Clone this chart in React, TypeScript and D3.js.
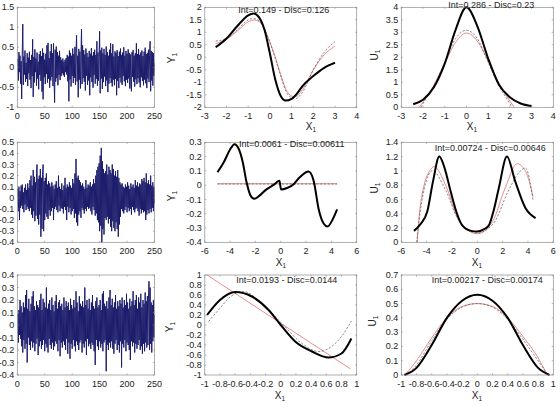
import * as d3 from 'd3';

type Pt = [number, number];

// simulated paths, one value per time step (t = 1..250)
const pathA = [
	0.21, -0.33, 0.38, -0.12, 0.29, -0.41, 0.15, -0.79, 0.33, 1.08,
	-0.44, 0.27, -0.18, 0.42, -0.36, 0.11, -0.29, 0.35, -0.47, 0.24,
	-0.15, 0.39, -0.31, 0.18, -0.52, 0.31, -0.22, 0.7, -0.74, 0.26,
	-0.38, 0.45, -0.12, 0.22, -0.46, 0.37, -0.28, 0.14, -0.55, 0.33,
	-0.19, 0.41, -0.34, 0.28, -0.61, 0.47, -0.8, 0.36, -0.25, 0.19,
	-0.42, 0.34, -0.17, 0.55, -0.38, 0.61, -0.29, 0.23, -0.51, 0.4,
	-0.33, 0.58, -0.24, 0.35, -0.47, 0.6, -0.31, -0.88, 0.44, -0.36,
	0.52, -0.27, 0.38, -0.45, 0.29, -0.19, 0.41, -0.32, 0.25, -0.22,
	0.18, -0.15, 0.22, -0.2, 0.14, -0.24, 0.19, -0.12, 0.23, -0.18,
	0.31, -0.35, 0.27, -0.85, 0.42, -0.3, 0.36, -0.48, 0.29, -0.22,
	0.47, -0.39, 0.33, -0.26, 0.51, -0.44, 0.38, 0.8, -0.35, 0.29,
	-0.75, 0.46, -0.31, 0.39, -0.53, 0.28, 0.95, -0.42, 0.55, -0.27,
	0.43, -0.36, 0.32, -0.58, 0.47, -0.21, 0.36, -0.44, 0.26, -0.33,
	0.41, -0.7, 0.34, -0.25, 0.48, -0.37, 0.29, -0.51, 0.38, -0.19,
	0.44, -0.41, 0.31, -0.29, 0.65, -0.46, 0.37, -0.33, 0.26, 0.9,
	-0.65, 0.42, -0.28, 0.49, -0.54, 0.35, -0.37, 0.46, -0.23, 0.31,
	-0.47, 0.52, -0.33, 0.38, -0.62, 0.29, -0.41, 0.44, -0.27, 0.6,
	-0.39, 0.35, -0.48, 0.58, -0.31, 0.27, -0.45, 0.4, -0.29, 0.36,
	-0.7, 0.43, -0.34, 0.28, -0.52, 0.39, -0.26, 0.47, -0.38, 0.31,
	-0.44, 0.37, -0.22, 0.5, -0.35, 0.29, -0.47, 0.41, -0.31, 0.34,
	-0.39, 0.45, -0.28, 0.36, -0.53, 0.32, -0.41, -0.6, 0.38, -0.24,
	0.43, -0.36, 0.29, -0.48, 0.35, -0.3, 0.6, -0.42, 0.33, -0.27,
	0.46, -0.38, 0.31, -0.5, 0.37, -0.25, 0.42, -0.34, 0.28, -0.45,
	0.39, -0.31, 0.49, -0.4, 0.33, -0.52, 0.36, -0.28, 0.44, -0.37,
	0.3, 0.65, -0.6, 0.41, -0.33, 0.38, -0.46, 0.35, -0.21, 0.1,
];

const pathB = [
	0.08, -0.12, 0.1, -0.2, 0.06, -0.09, 0.11, -0.07, 0.12, -0.1,
	0.05, -0.13, 0.09, -0.06, 0.12, -0.11, 0.07, -0.08, 0.13, -0.1,
	0.09, -0.12, 0.16, -0.09, 0.2, -0.15, 0.11, -0.18, 0.25, -0.12,
	0.19, -0.21, 0.14, -0.16, 0.22, 0.3, -0.19, 0.17, -0.24, 0.2,
	-0.15, 0.26, -0.35, 0.18, -0.28, 0.21, 0.3, -0.3, 0.15, -0.2,
	0.18, -0.14, 0.22, -0.17, 0.12, -0.19, 0.15, -0.11, 0.13, -0.16,
	0.1, -0.12, 0.14, -0.09, 0.11, -0.2, 0.08, -0.1, 0.12, -0.08,
	0.15, -0.11, 0.09, -0.13, 0.2, -0.07, 0.1, -0.12, 0.08, -0.09,
	0.13, -0.1, 0.07, -0.14, 0.11, -0.08, 0.18, -0.11, 0.09, -0.2,
	0.12, -0.08, 0.1, -0.13, 0.14, -0.09, 0.11, -0.15, 0.09, -0.12,
	0.17, -0.1, 0.13, -0.18, 0.22, -0.14, 0.35, -0.22, 0.18, -0.25,
	0.2, -0.15, 0.16, -0.12, 0.14, -0.18, 0.11, -0.09, 0.13, -0.11,
	0.1, -0.14, 0.08, -0.1, 0.16, -0.12, 0.09, -0.08, 0.12, -0.1,
	0.11, -0.09, 0.14, -0.12, 0.1, -0.15, 0.12, -0.08, 0.17, -0.11,
	0.13, -0.16, 0.2, -0.14, 0.25, -0.2, 0.28, -0.22, 0.31, -0.3,
	0.38, -0.25, 0.45, -0.4, 0.33, -0.28, 0.26, -0.33, 0.22, -0.18,
	0.24, -0.2, 0.3, -0.17, 0.21, -0.23, 0.28, -0.19, 0.25, -0.26,
	0.22, -0.3, 0.3, -0.21, 0.26, -0.27, 0.2, -0.3, 0.24, -0.22,
	0.19, -0.28, 0.25, -0.35, 0.18, -0.24, 0.14, -0.17, 0.12, -0.1,
	0.13, -0.12, 0.1, -0.14, 0.09, -0.11, 0.12, -0.08, 0.1, -0.13,
	0.14, -0.09, 0.11, -0.12, 0.08, -0.1, 0.13, -0.15, 0.1, -0.08,
	0.12, -0.11, 0.09, -0.13, 0.16, -0.1, 0.11, -0.09, 0.14, -0.12,
	0.1, -0.16, 0.13, -0.1, 0.12, -0.14, 0.17, -0.11, 0.15, -0.13,
	0.18, -0.12, 0.14, -0.2, 0.22, -0.15, 0.13, -0.11, 0.16, -0.14,
	0.12, -0.1, 0.2, -0.13, 0.11, -0.09, 0.14, -0.12, 0.1, -0.05,
];

const pathC = [
	0.09, -0.14, 0.12, -0.08, 0.2, -0.11, 0.15, -0.17, 0.1, -0.22,
	0.18, -0.12, 0.14, -0.19, 0.24, -0.15, 0.28, -0.3, 0.13, -0.1,
	0.21, -0.16, 0.11, -0.2, 0.17, -0.13, 0.23, -0.18, 0.27, -0.14,
	0.15, -0.21, 0.12, -0.15, 0.19, -0.11, 0.16, -0.24, 0.14, -0.17,
	0.2, -0.13, 0.25, -0.19, 0.12, -0.16, 0.21, -0.12, 0.18, -0.21,
	0.14, -0.15, 0.3, -0.18, 0.13, -0.22, 0.17, -0.11, 0.2, -0.16,
	0.12, -0.19, 0.22, -0.14, 0.16, -0.2, 0.11, -0.17, 0.19, -0.13,
	0.24, -0.15, 0.13, -0.21, 0.18, -0.12, 0.2, -0.25, 0.15, -0.14,
	0.17, -0.18, 0.12, -0.13, 0.22, -0.16, 0.14, -0.2, 0.19, -0.11,
	0.15, -0.23, 0.18, -0.14, 0.12, -0.27, 0.21, -0.15, 0.16, -0.19,
	0.13, -0.12, 0.2, -0.17, 0.14, -0.21, 0.27, -0.13, 0.18, -0.16,
	0.11, -0.2, 0.23, -0.14, 0.17, -0.12, 0.15, -0.22, 0.19, -0.15,
	0.14, -0.18, 0.3, -0.13, 0.16, -0.24, 0.2, -0.11, 0.13, -0.17,
	0.21, -0.15, 0.12, -0.19, 0.18, -0.14, 0.24, -0.16, 0.15, -0.21,
	0.13, -0.32, 0.19, -0.12, 0.22, -0.17, 0.14, -0.2, 0.16, -0.13,
	0.2, -0.18, 0.12, -0.15, 0.25, -0.21, 0.27, -0.14, 0.17, -0.12,
	0.15, -0.37, 0.19, -0.16, 0.13, -0.2, 0.22, -0.14, 0.28, -0.18,
	0.16, -0.13, 0.21, -0.19, 0.14, -0.23, 0.18, -0.15, 0.24, -0.12,
	0.13, -0.2, 0.19, -0.16, 0.15, -0.22, 0.2, -0.13, 0.17, -0.34,
	0.22, -0.15, 0.14, -0.18, 0.2, -0.12, 0.16, -0.21, 0.25, -0.14,
	0.18, -0.16, 0.13, -0.2, 0.21, -0.28, 0.15, -0.13, 0.19, -0.17,
	0.27, -0.14, 0.16, -0.22, 0.2, -0.15, 0.24, -0.19, 0.13, -0.16,
	0.22, -0.12, 0.18, -0.2, 0.25, -0.17, 0.14, -0.23, 0.2, -0.15,
	0.17, -0.21, 0.26, -0.14, 0.19, -0.18, 0.23, -0.16, 0.21, 0.35,
	-0.2, 0.3, -0.15, 0.18, -0.22, 0.16, -0.13, 0.2, -0.1, 0.08,
];

// drift Y_1 vs X_1: exact (black), fitted (red), estimated (dashed)
const driftAExact: Pt[] = [
	[-2.5, 0.4], [-2, 0.75], [-1.5, 1.25], [-1, 1.68], [-0.75, 1.75], [-0.5, 1.6],
	[-0.25, 1.1], [0, 0.15], [0.25, -0.9], [0.5, -1.55], [0.72, -1.73], [1, -1.66],
	[1.25, -1.45], [1.5, -1.15], [2, -0.75], [2.5, -0.42], [3, -0.22],
];
const driftAFit: Pt[] = [
	[-2.5, 0.55], [-2, 0.72], [-1.5, 1.05], [-1, 1.42], [-0.7, 1.49], [-0.4, 1.35],
	[0, 0.6], [0.25, 0.0], [0.5, -0.7], [0.75, -1.3], [1, -1.55], [1.15, -1.58],
	[1.5, -1.3], [2, -0.5], [2.5, 0.1], [3, 0.45],
];
const driftAEst: Pt[] = [
	[-2.5, 0.65], [-2, 0.75], [-1.5, 1.1], [-1, 1.5], [-0.75, 1.55], [-0.4, 1.38],
	[0, 0.6], [0.25, -0.05], [0.5, -0.75], [0.75, -1.38], [1, -1.62], [1.15, -1.66],
	[1.5, -1.4], [2, -0.5], [2.5, 0.2], [3, 0.63],
];

const driftBExact: Pt[] = [
	[-5, 0.09], [-4.5, 0.16], [-4, 0.25], [-3.65, 0.287], [-3.3, 0.25], [-3, 0.16],
	[-2.7, 0.02], [-2.4, -0.07], [-2.1, -0.095], [-1.7, -0.075], [-1.2, -0.035],
	[-0.6, 0.0], [-0.1, 0.03], [0.02, -0.03], [0.5, -0.02], [1, 0.005], [1.5, 0.055],
	[2.2, 0.095], [2.6, 0.03], [3, -0.17], [3.4, -0.27], [3.7, -0.29], [4.1, -0.24],
	[4.45, -0.17],
];
const driftBFit: Pt[] = [[-5, 0.01], [4.45, 0.01]];
const driftBEst: Pt[] = [[-5, 0.008], [4.45, 0.008]];

const driftCExact: Pt[] = [
	[-0.97, 0.2], [-0.8, 0.5], [-0.6, 0.66], [-0.38, 0.57], [-0.16, 0.3], [0, 0.0],
	[0.19, -0.33], [0.41, -0.53], [0.63, -0.65], [0.8, -0.57], [0.93, -0.27],
];
const driftCFit: Pt[] = [[-0.97, 1.0], [0.92, -0.88]];
const driftCEst: Pt[] = [
	[-0.95, 0.07], [-0.82, 0.3], [-0.65, 0.58], [-0.49, 0.67], [-0.25, 0.43],
	[0.015, 0.03], [0.28, -0.37], [0.5, -0.53], [0.67, -0.43], [0.8, -0.23], [0.93, 0.08],
];

// diffusion U_1 vs X_1
const diffAExact: Pt[] = [
	[-2.45, 0.12], [-2, 0.3], [-1.5, 0.8], [-1, 1.75], [-0.5, 3.1], [0, 4.0],
	[0.5, 3.25], [1, 1.95], [1.5, 0.9], [2, 0.4], [2.5, 0.15], [3, 0.05],
];
const diffAFit: Pt[] = [
	[-2.2, -0.02], [-2, 0.2], [-1.5, 0.9], [-1, 1.75], [-0.5, 2.6], [0, 2.97],
	[0.5, 2.65], [1, 1.85], [1.5, 0.95], [2, 0.25], [2.2, 0.0],
];
const diffAEst: Pt[] = [
	[-2.1, 0.0], [-2, 0.15], [-1.5, 0.85], [-1, 1.8], [-0.5, 2.75], [0, 3.08],
	[0.5, 2.75], [1, 1.8], [1.5, 0.85], [2, 0.15], [2.1, 0.0],
];

const diffBExact: Pt[] = [
	[-5, 0.16], [-4.5, 0.25], [-3.95, 0.43], [-3.5, 0.85], [-3, 1.2], [-2.6, 1.05],
	[-2.1, 0.71], [-1.6, 0.4], [-1.2, 0.24], [-0.5, 0.16], [0, 0.15], [0.5, 0.18],
	[0.92, 0.24], [1.3, 0.45], [1.7, 0.76], [2.34, 1.2], [3, 0.85], [3.8, 0.48],
	[4.6, 0.34],
];
const diffBFit: Pt[] = [
	[-4.75, 0.0], [-4.6, 0.34], [-4.2, 0.8], [-3.8, 0.99], [-3.4, 1.06], [-2.5, 0.8],
	[-1.45, 0.31], [0, 0.12], [1.2, 0.29], [2.2, 0.76], [3.15, 1.1], [3.8, 1.0],
	[4.4, 0.64],
];
const diffBEst: Pt[] = [
	[-4.78, 0.0], [-4.6, 0.3], [-4.2, 0.74], [-3.55, 1.0], [-2.5, 0.73], [-1.45, 0.3],
	[0, 0.13], [1.3, 0.27], [2.4, 0.7], [3.3, 0.98], [3.8, 1.04], [4.4, 0.59],
];

const diffCExact: Pt[] = [
	[-0.96, 0.0], [-0.8, 0.05], [-0.6, 0.21], [-0.4, 0.4], [-0.2, 0.52], [0, 0.562],
	[0.2, 0.52], [0.4, 0.4], [0.6, 0.21], [0.8, 0.05], [0.95, 0.0],
];
const diffCFit: Pt[] = [
	[-0.95, 0.0], [-0.8, 0.1], [-0.6, 0.26], [-0.4, 0.4], [-0.2, 0.48], [0, 0.5],
	[0.2, 0.48], [0.4, 0.4], [0.6, 0.27], [0.8, 0.12], [0.92, 0.0],
];
const diffCEst: Pt[] = [
	[-0.93, 0.0], [-0.8, 0.07], [-0.6, 0.24], [-0.4, 0.39], [-0.2, 0.475], [0, 0.5],
	[0.2, 0.475], [0.4, 0.39], [0.6, 0.25], [0.8, 0.1], [0.93, 0.0],
];

const titles = [
	'Int=0.149 - Disc=0.126',
	'Int=0.286 - Disc=0.23',
	'Int=0.0061 - Disc=0.00611',
	'Int=0.00724 - Disc=0.00646',
	'Int=0.0193 - Disc=0.0144',
	'Int=0.00217 - Disc=0.00174',
];

const timeTicks = [0, 50, 100, 150, 200, 250];

// grid of axes boxes, pixel edges
const colX: [number, number][] = [
	[17.3, 154.5],
	[204.8, 356.7],
	[401.3, 553.3],
];
const rowY: [number, number][] = [
	[7.3, 107.3],
	[142.3, 242.3],
	[275, 375],
];

const font = '"Liberation Sans", Arial, Helvetica, sans-serif';
const axisColor = '#8a8a8a';
const textColor = '#222';

const fmt = (d: number) => {
	const v = Math.round(d * 1000) / 1000;
	return String(v === 0 ? 0 : v);
};
const ticksOf = (a: number, b: number, step: number) =>
	d3.range(Math.round((b - a) / step) + 1).map((i) => a + i * step);

type Curve = { data: Pt[]; kind: 'exact' | 'fit' | 'est' };
type PanelSpec = {
	row: number;
	col: number;
	xDomain: [number, number];
	yDomain: [number, number];
	xTicks: number[];
	yTicks: number[];
	series?: number[];
	curves?: Curve[];
	title?: string;
	titleDx?: number;
	titleY?: number;
	yLabel?: string;
	yLabelPos?: [number, number];
	xLabelPos?: [number, number];
};

const panels: PanelSpec[] = [
	{ row: 0, col: 0, xDomain: [0, 250], yDomain: [-1, 1.5], xTicks: timeTicks, yTicks: ticksOf(-1, 1.5, 0.5), series: pathA },
	{ row: 1, col: 0, xDomain: [0, 250], yDomain: [-0.4, 0.5], xTicks: timeTicks, yTicks: ticksOf(-0.4, 0.5, 0.1), series: pathB },
	{ row: 2, col: 0, xDomain: [0, 250], yDomain: [-0.4, 0.4], xTicks: timeTicks, yTicks: ticksOf(-0.4, 0.4, 0.1), series: pathC },
	{
		row: 0, col: 1, xDomain: [-3, 4], yDomain: [-2, 2], xTicks: ticksOf(-3, 4, 1), yTicks: ticksOf(-2, 2, 0.5),
		curves: [{ data: driftAFit, kind: 'fit' }, { data: driftAEst, kind: 'est' }, { data: driftAExact, kind: 'exact' }],
		title: titles[0], titleDx: 3, titleY: 12.6, yLabel: 'Y', yLabelPos: [175, 58], xLabelPos: [311, 130],
	},
	{
		row: 0, col: 2, xDomain: [-3, 4], yDomain: [0, 4], xTicks: ticksOf(-3, 4, 1), yTicks: ticksOf(0, 4, 0.5),
		curves: [{ data: diffAFit, kind: 'fit' }, { data: diffAEst, kind: 'est' }, { data: diffAExact, kind: 'exact' }],
		title: titles[1], titleDx: 14, titleY: 7.5, yLabel: 'U', yLabelPos: [378, 55], xLabelPos: [472, 130],
	},
	{
		row: 1, col: 1, xDomain: [-6, 6], yDomain: [-0.4, 0.3], xTicks: ticksOf(-6, 6, 2), yTicks: ticksOf(-0.4, 0.3, 0.1),
		curves: [{ data: driftBFit, kind: 'fit' }, { data: driftBEst, kind: 'est' }, { data: driftBExact, kind: 'exact' }],
		title: titles[2], titleDx: 11, titleY: 147.3, yLabel: 'Y', yLabelPos: [175, 196], xLabelPos: [281, 265.5],
	},
	{
		row: 1, col: 2, xDomain: [-6, 6], yDomain: [0, 1.4], xTicks: ticksOf(-6, 6, 2), yTicks: ticksOf(0, 1.4, 0.2),
		curves: [{ data: diffBFit, kind: 'fit' }, { data: diffBEst, kind: 'est' }, { data: diffBExact, kind: 'exact' }],
		title: titles[3], titleDx: 13, titleY: 151, yLabel: 'U', yLabelPos: [378, 188], xLabelPos: [477, 265.5],
	},
	{
		row: 2, col: 1, xDomain: [-1, 1], yDomain: [-1, 1], xTicks: ticksOf(-1, 1, 0.2), yTicks: ticksOf(-1, 1, 0.2),
		curves: [{ data: driftCFit, kind: 'fit' }, { data: driftCEst, kind: 'est' }, { data: driftCExact, kind: 'exact' }],
		title: titles[4], titleDx: 6, titleY: 283.3, yLabel: 'Y', yLabelPos: [173, 327], xLabelPos: [280, 399],
	},
	{
		row: 2, col: 2, xDomain: [-1, 1], yDomain: [0, 0.7], xTicks: ticksOf(-1, 1, 0.2), yTicks: ticksOf(0, 0.7, 0.1),
		curves: [{ data: diffCFit, kind: 'fit' }, { data: diffCEst, kind: 'est' }, { data: diffCExact, kind: 'exact' }],
		title: titles[5], titleDx: 10, titleY: 283.3, yLabel: 'U', yLabelPos: [376, 321], xLabelPos: [477, 399],
	},
];

const curveStyle = {
	exact: { stroke: '#000', width: 2, dash: undefined as string | undefined },
	fit: { stroke: '#e07070', width: 0.8, dash: undefined as string | undefined },
	est: { stroke: '#555', width: 0.7, dash: '2.2,1.6' },
};

function Panel({ p }: { p: PanelSpec }) {
	const [x0, x1] = colX[p.col];
	const [y0, y1] = rowY[p.row];
	const x = d3.scaleLinear().domain(p.xDomain).range([x0, x1]);
	const y = d3.scaleLinear().domain(p.yDomain).range([y1, y0]);

	const seriesLine = d3
		.line<number>()
		.x((_, i) => x(i + 1))
		.y((d) => y(d));
	const smooth = d3
		.line<Pt>()
		.x((d) => x(d[0]))
		.y((d) => y(d[1]))
		.curve(d3.curveMonotoneX);

	return (
		<g>
			{/* data first, box drawn over it */}
			{p.series && (
				<path d={seriesLine(p.series)!} fill="none" stroke="#1c1c6c" strokeWidth={1} strokeLinejoin="bevel" />
			)}
			{p.curves?.map((c, i) => {
				const s = curveStyle[c.kind];
				return (
					<path
						key={i}
						d={smooth(c.data)!}
						fill="none"
						stroke={s.stroke}
						strokeWidth={s.width}
						strokeDasharray={s.dash}
						strokeLinejoin="round"
					/>
				);
			})}
			<rect x={x0} y={y0} width={x1 - x0} height={y1 - y0} fill="none" stroke={axisColor} strokeWidth={0.7} />
			{/* bottom axis */}
			{p.xTicks.map((t) => (
				<g key={'x' + t} transform={`translate(${x(t)},0)`}>
					<line y1={y1} y2={y1 - 1.6} stroke={axisColor} strokeWidth={0.6} />
					<line y1={y0} y2={y0 + 1.6} stroke={axisColor} strokeWidth={0.6} />
					<text y={y1 + 11.5} textAnchor="middle" fontSize={9} fill={textColor}>
						{fmt(t)}
					</text>
				</g>
			))}
			{/* left axis */}
			{p.yTicks.map((t) => (
				<g key={'y' + t} transform={`translate(0,${y(t)})`}>
					<line x1={x0} x2={x0 + 1.6} stroke={axisColor} strokeWidth={0.6} />
					<line x1={x1} x2={x1 - 1.6} stroke={axisColor} strokeWidth={0.6} />
					<text x={x0 - 3} dy="0.34em" textAnchor="end" fontSize={9} fill={textColor}>
						{fmt(t)}
					</text>
				</g>
			))}
			{p.title && (
				<text x={(x0 + x1) / 2 + (p.titleDx ?? 0)} y={p.titleY} textAnchor="middle" fontSize={9} fill={textColor}>
					{p.title}
				</text>
			)}
			{p.xLabelPos && (
				<text x={p.xLabelPos[0]} y={p.xLabelPos[1]} textAnchor="middle" fontSize={10} fill={textColor}>
					X
					<tspan fontSize={6.5} dy={2.2}>
						1
					</tspan>
				</text>
			)}
			{p.yLabel && p.yLabelPos && (
				<text
					transform={`translate(${p.yLabelPos[0]},${p.yLabelPos[1]}) rotate(-90)`}
					textAnchor="middle"
					fontSize={10}
					fill={textColor}
				>
					{p.yLabel}
					<tspan fontSize={6.5} dy={2.2}>
						1
					</tspan>
				</text>
			)}
		</g>
	);
}

export default function App() {
	return (
		<svg
			width={560}
			height={406}
			viewBox="0 0 560 406"
			style={{ position: 'absolute', left: 0, top: 0, background: '#fff', fontFamily: font }}
		>
			<rect width={560} height={406} fill="#fff" />
			{panels.map((p, i) => (
				<Panel key={i} p={p} />
			))}
		</svg>
	);
}
